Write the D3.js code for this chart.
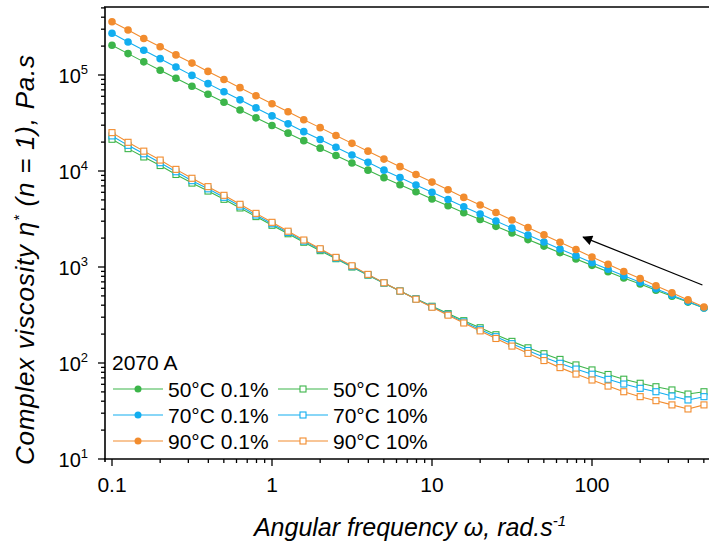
<!DOCTYPE html>
<html><head><meta charset="utf-8">
<script src="https://cdn.jsdelivr.net/npm/d3@7"></script>
<style>
html,body{margin:0;padding:0;background:#fff;}
svg{display:block;}
text{font-family:"Liberation Sans",Arial,sans-serif;fill:#000;}
</style></head>
<body>
<svg id="chart" width="709" height="547"></svg>
<script>
// ---------- DATA ----------
const freq = [0.1,0.126,0.158,0.2,0.251,0.316,0.398,0.501,0.631,0.794,
  1,1.26,1.58,2,2.51,3.16,3.98,5.01,6.31,7.94,
  10,12.6,15.8,20,25.1,31.6,39.8,50.1,63.1,79.4,
  100,126,158,200,251,316,398,501];

const eta50_01 = [204000,167000,137000,112000,92500,76400,63000,52100,43200,35800,
  29800,24800,20700,17300,14500,12100,10200,8530,7190,6070,
  5120,4340,3670,3120,2650,2260,1930,1650,1410,1210,
  1040,893,769,664,574,497,431,374];
const eta70_01 = [272000,221000,181000,148000,121000,99100,81300,66800,55100,45400,
  37500,31000,25700,21300,17700,14700,12300,10200,8550,7160,
  6000,5040,4240,3560,3010,2540,2150,1820,1540,1310,
  1110,948,809,692,592,507,436,374];
const eta90_01 = [359000,294000,240000,197000,162000,133000,109000,89700,73800,60800,
  50200,41400,34200,28300,23400,19400,16100,13300,11100,9200,
  7660,6370,5310,4430,3700,3090,2580,2160,1810,1520,
  1270,1070,899,757,638,538,454,383];

const eta50_10 = [21400,17100,14000,11400,9200,7480,6180,5070,4120,3350,
  2720,2220,1810,1480,1220,1000,822,679,562,467,
  390,327,276,233,197,168,144,125,109,95.5,
  84.7,75.9,67.8,61.5,56.6,52.4,47.5,50.2];
const eta70_10 = [23200,18500,15100,12200,9820,7930,6520,5320,4310,3480,
  2820,2290,1860,1520,1240,1010,830,682,562,465,
  385,321,268,224,188,159,135,115,99.3,86.5,
  76.4,67.6,60.4,54.5,50.2,45.3,41.2,44.6];
const eta90_10 = [25100,19900,16100,13000,10400,8400,6870,5580,4500,3620,
  2920,2360,1910,1550,1260,1030,838,685,562,462,
  381,315,261,216,180,150,126,106,89.5,76.7,
  66.5,57.5,50.2,44.6,40.5,36.6,33.2,36.6];

const seriesNames = ["50°C 0.1%","70°C 0.1%","90°C 0.1%","50°C 10%","70°C 10%","90°C 10%"];
const legendTitle = "2070 A";
const xTickLabels = ["0.1","1","10","100"];
const xMajor = [0.1,1,10,100];
const yMajorExp = [1,2,3,4,5];
const arrowFrom = [490, 650];
const arrowTo = [88, 2050];

// ---------- STYLE ----------
const cGreen = "#3cb54a", cBlue = "#12aef0", cOrange = "#f28c2e";

const svg = d3.select("#chart");
const x = d3.scaleLog().domain([0.1, 1000]).range([112, 752]);
const y = d3.scaleLog().domain([10, 1e5]).range([459, 75]);
const axLeft = 105, axBottom = 459, axTop = 7, axRight = 709;

const series = [
  {name: seriesNames[0], vals: eta50_01, color: cGreen, filled: true},
  {name: seriesNames[1], vals: eta70_01, color: cBlue, filled: true},
  {name: seriesNames[2], vals: eta90_01, color: cOrange, filled: true},
  {name: seriesNames[3], vals: eta50_10, color: cGreen, filled: false},
  {name: seriesNames[4], vals: eta70_10, color: cBlue, filled: false},
  {name: seriesNames[5], vals: eta90_10, color: cOrange, filled: false}
];

const plot = svg.append("g");
const line = d3.line().x(d => x(d[0])).y(d => y(d[1]));
series.forEach(s => {
  const pts = freq.map((f, i) => [f, s.vals[i]]);
  plot.append("path").attr("d", line(pts)).attr("fill", "none")
    .attr("stroke", s.color).attr("stroke-width", 1.1);
  if (s.filled) {
    plot.selectAll(null).data(pts).enter().append("circle")
      .attr("cx", d => x(d[0])).attr("cy", d => y(d[1])).attr("r", 3.8)
      .attr("fill", s.color);
  } else {
    plot.selectAll(null).data(pts).enter().append("rect")
      .attr("x", d => x(d[0]) - 3).attr("y", d => y(d[1]) - 3)
      .attr("width", 6).attr("height", 6)
      .attr("fill", "#fff").attr("stroke", s.color).attr("stroke-width", 1.1);
  }
});

// arrow
svg.append("defs").append("marker").attr("id", "ah")
  .attr("viewBox", "0 0 10 10").attr("refX", 9).attr("refY", 5)
  .attr("markerWidth", 16).attr("markerHeight", 10).attr("markerUnits", "userSpaceOnUse")
  .attr("orient", "auto")
  .append("path").attr("d", "M0,0 L10,5 L0,10 Z").attr("fill", "#000");
svg.append("line")
  .attr("x1", x(arrowFrom[0])).attr("y1", y(arrowFrom[1]))
  .attr("x2", x(arrowTo[0])).attr("y2", y(arrowTo[1]))
  .attr("stroke", "#000").attr("stroke-width", 1.2).attr("marker-end", "url(#ah)");

// axes
const ax = svg.append("g").attr("stroke", "#000");
ax.append("line").attr("x1", axLeft).attr("x2", axLeft).attr("y1", axTop).attr("y2", axBottom + 3).attr("stroke-width", 1.6);
ax.append("line").attr("x1", axLeft - 1).attr("x2", axRight).attr("y1", axBottom).attr("y2", axBottom).attr("stroke-width", 1.6);
ax.append("line").attr("x1", axLeft - 1).attr("x2", axRight).attr("y1", axTop).attr("y2", axTop).attr("stroke-width", 1.6);

// x ticks
const xTicks = x.ticks().filter(v => x(v) >= axLeft && x(v) <= axRight);
xTicks.forEach(v => {
  const major = xMajor.some(m => Math.abs(m - v) / m < 1e-6);
  ax.append("line").attr("x1", x(v)).attr("x2", x(v))
    .attr("y1", axBottom).attr("y2", axBottom + (major ? 7 : 4)).attr("stroke-width", 1.3);
});
xMajor.forEach((v, i) => {
  svg.append("text").attr("x", x(v)).attr("y", 492).attr("text-anchor", "middle")
    .attr("font-size", 21).text(xTickLabels[i]);
});

// y ticks
const yTicks = d3.scaleLog().domain([10, 5.2e5]).ticks();
yTicks.forEach(v => {
  const yy = y(v);
  if (yy < axTop) return;
  const major = Math.abs(Math.log10(v) - Math.round(Math.log10(v))) < 1e-6;
  ax.append("line").attr("x1", axLeft).attr("x2", axLeft - (major ? 7 : 4))
    .attr("y1", yy).attr("y2", yy).attr("stroke-width", 1.3);
});
yMajorExp.forEach(e => {
  const t = svg.append("text").attr("x", 88).attr("y", y(Math.pow(10, e)) + 7.5)
    .attr("text-anchor", "end").attr("font-size", 20);
  t.append("tspan").text("10");
  t.append("tspan").attr("font-size", 13).attr("dy", -9).text(String(e));
});

// axis titles
const xt = svg.append("text").attr("x", 410).attr("y", 536).attr("text-anchor", "middle")
  .attr("font-size", 25).attr("font-style", "italic");
xt.append("tspan").text("Angular frequency ");
xt.append("tspan").text("ω");
xt.append("tspan").text(", rad.s");
xt.append("tspan").attr("font-size", 15).attr("dy", -10).text("-1");

const yt = svg.append("text").attr("transform", "translate(34,260) rotate(-90)")
  .attr("text-anchor", "middle").attr("font-size", 26).attr("font-style", "italic")
  .attr("textLength", 410).attr("lengthAdjust", "spacing");
yt.append("tspan").text("Complex viscosity η");
yt.append("tspan").attr("font-size", 15).attr("dy", -10).text("*");
yt.append("tspan").attr("dy", 10).text(" (n = 1), Pa.s");

// legend
svg.append("text").attr("x", 112).attr("y", 370).attr("font-size", 21).text(legendTitle);
const rowY = [389, 415, 441];
const colX = [113, 278];
series.forEach((s, i) => {
  const col = i < 3 ? 0 : 1, row = i % 3;
  const x0 = colX[col], yy = rowY[row];
  svg.append("line").attr("x1", x0).attr("x2", x0 + 50).attr("y1", yy).attr("y2", yy)
    .attr("stroke", s.color).attr("stroke-width", 1.1);
  if (s.filled) {
    svg.append("circle").attr("cx", x0 + 25).attr("cy", yy).attr("r", 3.5).attr("fill", s.color);
  } else {
    svg.append("rect").attr("x", x0 + 22).attr("y", yy - 3).attr("width", 6).attr("height", 6)
      .attr("fill", "#fff").attr("stroke", s.color).attr("stroke-width", 1.1);
  }
  svg.append("text").attr("x", x0 + 55).attr("y", yy + 7.5).attr("font-size", 21).text(s.name);
});
</script>
</body></html>
